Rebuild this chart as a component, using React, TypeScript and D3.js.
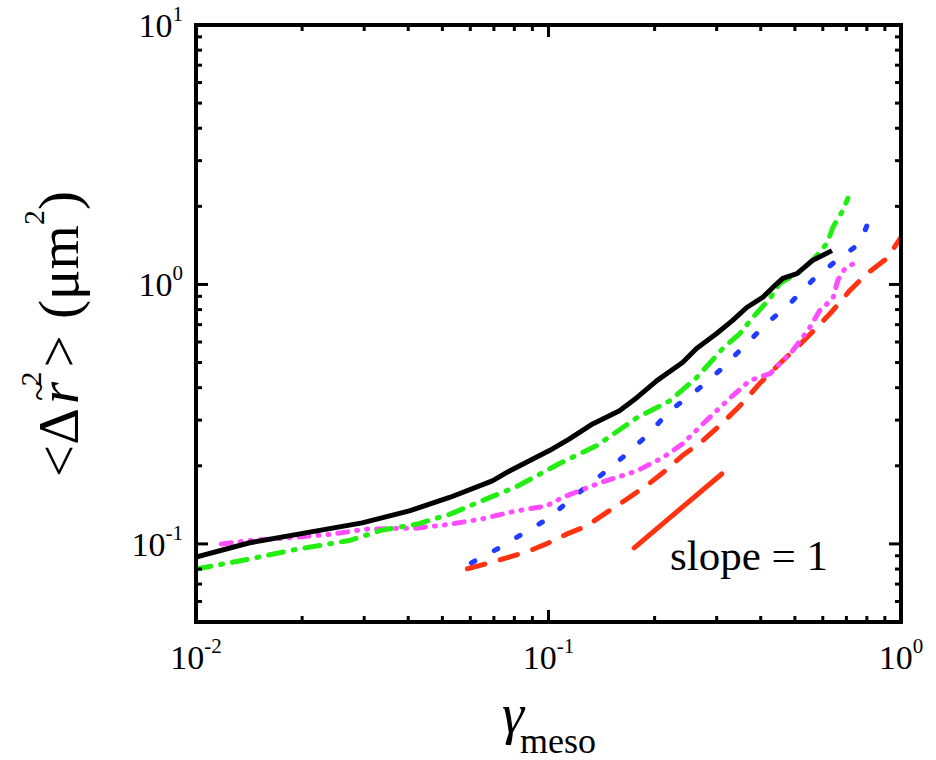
import React, { useEffect, useRef } from "react";
import * as d3 from "d3";

// values (gamma_meso vs <dr~^2> in um^2)
const gammaBlack = [0.01, 0.0142, 0.0296, 0.0403, 0.0524, 0.0693, 0.0775, 0.0883, 0.1006, 0.1147, 0.1334, 0.159, 0.178, 0.203, 0.24, 0.263, 0.3, 0.333, 0.365, 0.405, 0.433, 0.462, 0.507, 0.562, 0.637];
const msdBlack = [0.089, 0.101, 0.1205, 0.134, 0.151, 0.175, 0.191, 0.209, 0.229, 0.254, 0.29, 0.326, 0.366, 0.426, 0.5, 0.566, 0.647, 0.727, 0.815, 0.891, 0.974, 1.055, 1.1, 1.24, 1.35];

const gammaGreen = [0.01, 0.0142, 0.0196, 0.0272, 0.0337, 0.0422, 0.0524, 0.065, 0.081, 0.1074, 0.1368, 0.178, 0.221, 0.263, 0.312, 0.349, 0.38, 0.425, 0.453, 0.507, 0.562, 0.617, 0.641, 0.684, 0.707];
const msdGreen = [0.08, 0.0875, 0.0957, 0.103, 0.113, 0.119, 0.13, 0.147, 0.166, 0.204, 0.239, 0.306, 0.356, 0.437, 0.566, 0.647, 0.746, 0.884, 1.01, 1.1, 1.24, 1.44, 1.66, 1.93, 2.15];

const gammaMagenta = [0.0118, 0.0142, 0.0175, 0.0243, 0.0304, 0.0422, 0.0524, 0.065, 0.081, 0.0986, 0.1096, 0.14, 0.178, 0.211, 0.24, 0.274, 0.321, 0.372, 0.425, 0.453, 0.493, 0.551, 0.588, 0.641, 0.662, 0.693, 0.731, 0.755];
const msdMagenta = [0.1, 0.103, 0.105, 0.109, 0.114, 0.115, 0.119, 0.125, 0.134, 0.14, 0.151, 0.172, 0.191, 0.215, 0.243, 0.29, 0.356, 0.426, 0.453, 0.496, 0.556, 0.682, 0.794, 0.884, 1.04, 1.15, 1.2, 1.13];

const gammaBlue = [0.0604, 0.0726, 0.0844, 0.1006, 0.117, 0.1368, 0.162, 0.19, 0.221, 0.263, 0.306, 0.356, 0.416, 0.484, 0.562, 0.658, 0.765, 0.817];
const msdBlue = [0.0845, 0.0966, 0.1094, 0.126, 0.151, 0.178, 0.215, 0.261, 0.326, 0.39, 0.466, 0.572, 0.707, 0.845, 1.04, 1.24, 1.44, 1.81];

const gammaRed = [0.0589, 0.068, 0.076, 0.0883, 0.0986, 0.1125, 0.128, 0.146, 0.167, 0.19, 0.211, 0.24, 0.274, 0.312, 0.356, 0.397, 0.453, 0.507, 0.577, 0.641, 0.716, 0.8, 0.912, 1.0];
const msdRed = [0.0802, 0.0845, 0.0883, 0.094, 0.1, 0.109, 0.117, 0.132, 0.149, 0.168, 0.188, 0.219, 0.25, 0.293, 0.35, 0.415, 0.496, 0.572, 0.682, 0.794, 0.948, 1.1, 1.26, 1.52];

const gammaSlope = [0.175, 0.31];
const msdSlope = [0.0966, 0.186];

const xTickExps = ["-2", "-1", "0"];
const yTickExps = ["-1", "0", "1"];

const App = () => {
  const ref = useRef<SVGSVGElement>(null);

  useEffect(() => {
    drawChart();
  }, []);

  const drawChart = () => {
    const w = 936;
    const h = 760;
    const left = 196, top = 25, right = 901, bottom = 622;
    const font = "Liberation Serif, DejaVu Serif, serif";

    const svg = d3.select(ref.current);
    svg.selectAll("*").remove();
    svg.attr("width", w).attr("height", h).style("font-family", font);

    const x = d3.scaleLog().domain([0.01, 1]).range([left, right]);
    const y = d3.scaleLog().domain([0.05, 10]).range([bottom, top]);

    svg.append("defs").append("clipPath").attr("id", "plotclip")
      .append("rect")
      .attr("x", left).attr("y", top)
      .attr("width", right - left).attr("height", bottom - top);

    const line = d3.line<[number, number]>()
      .x(d => x(d[0]))
      .y(d => y(d[1]));

    const series = [
      { gx: gammaRed, my: msdRed, color: "#ff3311", dash: "18,16" },
      { gx: gammaBlue, my: msdBlue, color: "#1f3cff", dash: "4,22" },
      { gx: gammaMagenta, my: msdMagenta, color: "#ff4dff", dash: "10,9,1,9,1,9" },
      { gx: gammaGreen, my: msdGreen, color: "#22ee11", dash: "15,10,2,10" },
      { gx: gammaBlack, my: msdBlack, color: "#000000", dash: null },
    ];

    const g = svg.append("g").attr("clip-path", "url(#plotclip)");
    series.forEach(s => {
      const pts = s.gx.map((v, i) => [v, s.my[i]] as [number, number]);
      g.append("path")
        .attr("d", line(pts))
        .attr("fill", "none")
        .attr("stroke", s.color)
        .attr("stroke-width", 5)
        .attr("stroke-linecap", s.dash ? "round" : "butt")
        .attr("stroke-linejoin", "round")
        .attr("stroke-dasharray", s.dash);
    });

    // slope = 1 guide
    g.append("path")
      .attr("d", line(gammaSlope.map((v, i) => [v, msdSlope[i]] as [number, number])))
      .attr("fill", "none")
      .attr("stroke", "#ff3311")
      .attr("stroke-width", 5)
      .attr("stroke-linecap", "round");

    svg.append("text")
      .attr("x", 670).attr("y", 570)
      .attr("font-size", 43)
      .text("slope = 1");

    // ticks on all four sides, pointing inward
    const isMajor = (v: number) => Math.abs(Math.log10(v) - Math.round(Math.log10(v))) < 1e-6;
    const xt = x.ticks().filter(v => v > 0.01 && v < 1);
    const yt = y.ticks().filter(v => v > 0.05 && v < 10);
    const tg = svg.append("g").attr("stroke", "#000").attr("stroke-width", 3);
    xt.forEach(v => {
      const len = isMajor(v) ? 12 : 6;
      tg.append("line").attr("x1", x(v)).attr("x2", x(v)).attr("y1", bottom).attr("y2", bottom - len);
      tg.append("line").attr("x1", x(v)).attr("x2", x(v)).attr("y1", top).attr("y2", top + len);
    });
    yt.forEach(v => {
      const len = isMajor(v) ? 12 : 6;
      tg.append("line").attr("x1", left).attr("x2", left + len).attr("y1", y(v)).attr("y2", y(v));
      tg.append("line").attr("x1", right).attr("x2", right - len).attr("y1", y(v)).attr("y2", y(v));
    });

    svg.append("rect")
      .attr("x", left).attr("y", top)
      .attr("width", right - left).attr("height", bottom - top)
      .attr("fill", "none")
      .attr("stroke", "#000")
      .attr("stroke-width", 4);

    // tick labels
    xTickExps.forEach(e => {
      const t = svg.append("text")
        .attr("x", x(Math.pow(10, +e))).attr("y", 669)
        .attr("text-anchor", "middle")
        .attr("font-size", 34);
      t.append("tspan").text("10");
      t.append("tspan").attr("font-size", 21).attr("dy", -16).text(e);
    });
    yTickExps.forEach(e => {
      const t = svg.append("text")
        .attr("x", 183).attr("y", y(Math.pow(10, +e)) + 12)
        .attr("text-anchor", "end")
        .attr("font-size", 34);
      t.append("tspan").text("10");
      t.append("tspan").attr("font-size", 21).attr("dy", -16).text(e);
    });

    // x axis title
    const xl = svg.append("text")
      .attr("x", 549).attr("y", 733)
      .attr("text-anchor", "middle");
    xl.append("tspan").attr("font-size", 56).attr("font-style", "italic").text("γ");
    xl.append("tspan").attr("font-size", 36).attr("dx", -4).attr("dy", 20).text("meso");

    // y axis title (reads bottom to top, baseline at x = 78)
    const yl = svg.append("text")
      .attr("transform", "translate(78,334) rotate(-90)")
      .attr("text-anchor", "middle")
      .attr("font-size", 57);
    yl.append("tspan").text("<Δ");
    yl.append("tspan").attr("font-style", "italic").attr("dx", 4).text("r");
    yl.append("tspan").attr("font-size", 36).attr("dx", -19).attr("dy", -27).text("~");
    yl.append("tspan").attr("font-size", 30).attr("dx", -5).attr("dy", -10).text("2");
    yl.append("tspan").attr("dx", 4).attr("dy", 37).text(">");
    yl.append("tspan").attr("dx", 2).text(" (μm");
    yl.append("tspan").attr("font-size", 30).attr("dy", -34).text("2");
    yl.append("tspan").attr("dy", 34).text(")");
  };

  return (
    <div>
      <svg ref={ref} style={{ position: "absolute", left: 0, top: 0 }}></svg>
    </div>
  );
};

export default App;
